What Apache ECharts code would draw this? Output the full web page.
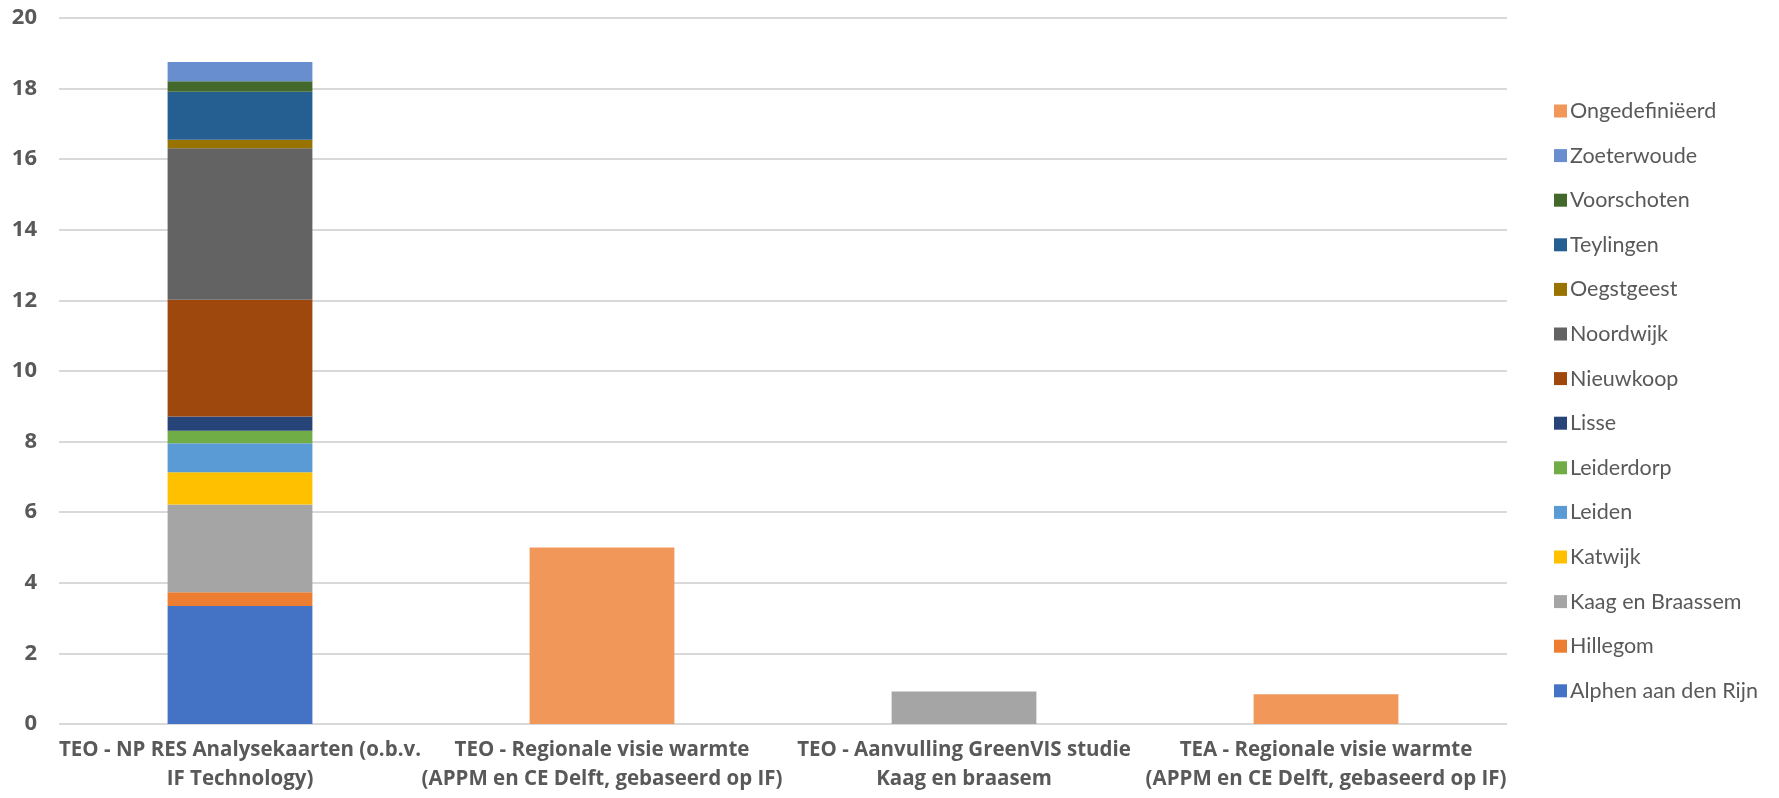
<!DOCTYPE html>
<html>
<head>
<meta charset="utf-8">
<script src="https://cdn.jsdelivr.net/npm/echarts@6/dist/echarts.min.js"></script>
<style>
  html, body { margin: 0; padding: 0; background: #fff; }
  #chart { width: 1779px; height: 798px; }
</style>
</head>
<body>
<div id="chart"></div>
<script>
// Studies (x categories)
const categories = [
  'TEO - NP RES Analysekaarten (o.b.v.\nIF Technology)',
  'TEO - Regionale visie warmte\n(APPM en CE Delft, gebaseerd op IF)',
  'TEO - Aanvulling GreenVIS studie\nKaag en braasem',
  'TEA - Regionale visie warmte\n(APPM en CE Delft, gebaseerd op IF)'
];

// Municipalities, bottom of the stack first
const municipalities = [
  'Alphen aan den Rijn', 'Hillegom', 'Kaag en Braassem', 'Katwijk', 'Leiden',
  'Leiderdorp', 'Lisse', 'Nieuwkoop', 'Noordwijk', 'Oegstgeest', 'Teylingen',
  'Voorschoten', 'Zoeterwoude', 'Ongedefiniëerd'
];

// Values per municipality, one entry per study
const alphen      = [3.34, 0, 0, 0];
const hillegom    = [0.39, 0, 0, 0];
const kaag        = [2.49, 0, 0.92, 0];
const katwijk     = [0.91, 0, 0, 0];
const leiden      = [0.82, 0, 0, 0];
const leiderdorp  = [0.36, 0, 0, 0];
const lisse       = [0.40, 0, 0, 0];
const nieuwkoop   = [3.31, 0, 0, 0];
const noordwijk   = [4.29, 0, 0, 0];
const oegstgeest  = [0.24, 0, 0, 0];
const teylingen   = [1.36, 0, 0, 0];
const voorschoten = [0.30, 0, 0, 0];
const zoeterwoude = [0.54, 0, 0, 0];
const ongedefinieerd = [0, 5.0, 0, 0.84];

const yTicks = [0, 2, 4, 6, 8, 10, 12, 14, 16, 18, 20];

const seriesValues = [
  alphen, hillegom, kaag, katwijk, leiden, leiderdorp, lisse,
  nieuwkoop, noordwijk, oegstgeest, teylingen, voorschoten, zoeterwoude, ongedefinieerd
];

const colors = [
  '#4472C4', '#ED7D31', '#A5A5A5', '#FFC000', '#5B9BD5', '#70AD47', '#264478',
  '#9E480E', '#636363', '#997300', '#255E91', '#43682B', '#698ED0', '#F1975A'
];

const LABEL_FONT = '"Open Sans", Lato, sans-serif';
const LEGEND_FONT = 'Lato, "Open Sans", sans-serif';

const series = municipalities.map((name, i) => ({
  name: name,
  type: 'bar',
  stack: 'total',
  barWidth: '40%',
  itemStyle: { color: colors[i] },
  data: seriesValues[i].map(v => (v === 0 ? null : v))
}));

const chart = echarts.init(document.getElementById('chart'), null, { renderer: 'canvas' });
chart.setOption({
  animation: false,
  backgroundColor: '#ffffff',
  grid: { left: 59, right: 272, top: 18, bottom: 74, containLabel: false },
  legend: {
    orient: 'vertical',
    left: 1549,
    top: 95,
    itemWidth: 13,
    itemHeight: 13,
    itemGap: 22.6,
    icon: 'rect',
    data: municipalities.slice().reverse(),
    textStyle: {
      fontFamily: LEGEND_FONT, fontSize: 21.5, color: '#595959', lineHeight: 20, padding: [0, 0, 0, -2]
    }
  },
  xAxis: {
    type: 'category',
    data: categories,
    axisLine: { show: false },
    axisTick: { show: false },
    axisLabel: {
      interval: 0,
      margin: 12,
      fontFamily: LABEL_FONT,
      fontSize: 20.5,
      fontWeight: 'bold',
      color: '#595959',
      lineHeight: 29,
      align: 'center'
    }
  },
  yAxis: {
    type: 'value',
    min: yTicks[0],
    max: yTicks[yTicks.length - 1],
    interval: yTicks[1] - yTicks[0],
    axisLine: { show: false },
    axisTick: { show: false },
    splitLine: { lineStyle: { color: '#D9D9D9', width: 2 } },
    axisLabel: {
      margin: 22,
      fontFamily: LABEL_FONT,
      fontSize: 22,
      fontWeight: 'bold',
      color: '#595959'
    }
  },
  series: series
});
</script>
</body>
</html>
